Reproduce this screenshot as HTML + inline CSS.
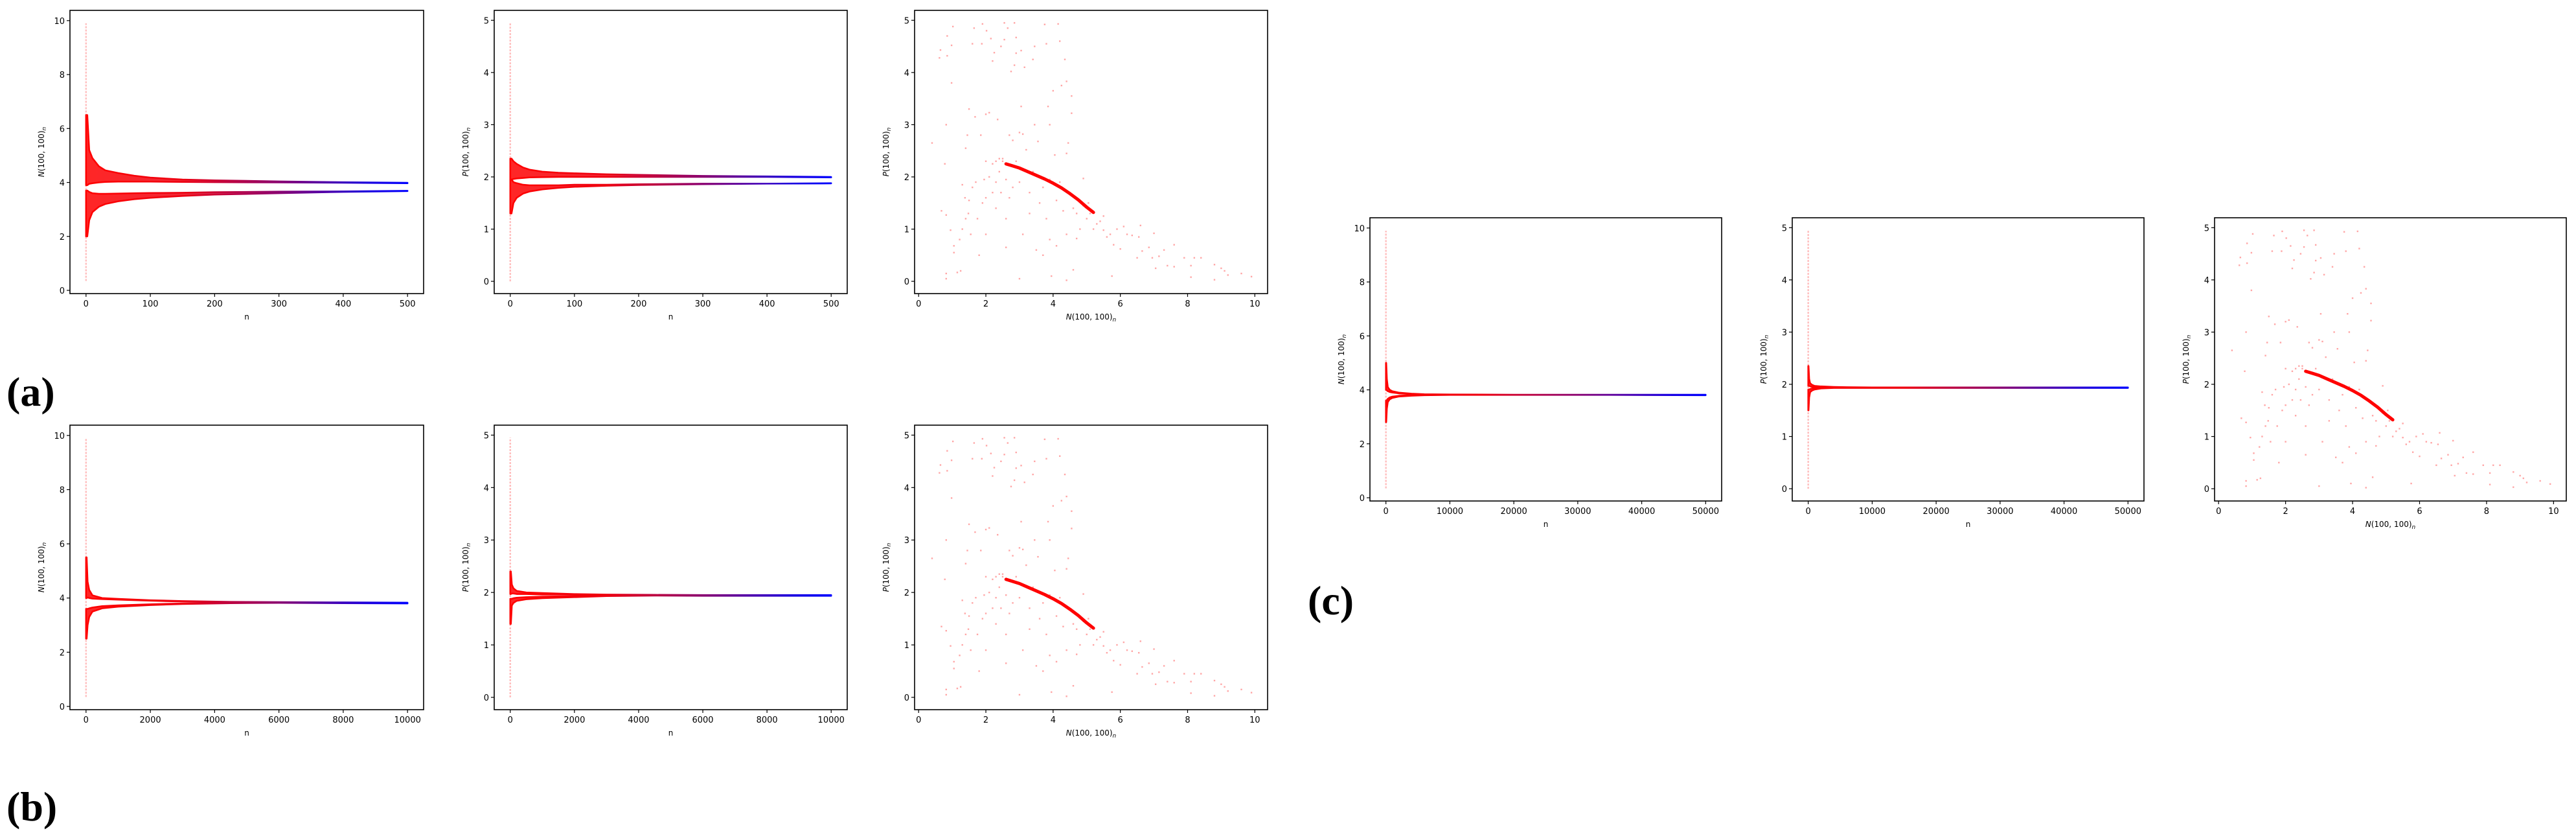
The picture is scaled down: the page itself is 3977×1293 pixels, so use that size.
<!DOCTYPE html>
<html><head><meta charset="utf-8">
<style>
html,body{margin:0;padding:0;background:#fff;}
svg{display:block;}
text{font-family:"DejaVu Sans","Liberation Sans",sans-serif;fill:#000;}
.lab{font-family:"Liberation Serif",serif;font-weight:bold;font-size:64px;}
</style></head>
<body>
<svg id="fig" width="3977" height="1293" viewBox="0 0 3977 1293" xmlns="http://www.w3.org/2000/svg">
<defs></defs>
<text class="lab" x="10" y="626">(a)</text>
<text class="lab" x="10" y="1266">(b)</text>
<text class="lab" x="2019" y="948">(c)</text>
</svg>
<script>
// ---- data ----
const nA = [2,5,10,20,30,50,75,100,150,200,300,400,500];
const a1UpOuter = [6.5,5.2,4.9,4.6,4.45,4.35,4.25,4.18,4.11,4.08,4.04,4.01,3.99];
const a1UpInner = [3.9,3.95,3.97,4.0,4.02,4.03,4.03,4.03,4.02,4.01,4.0,3.99,3.97];
const a1LoInner = [3.7,3.65,3.6,3.58,3.58,3.59,3.6,3.61,3.62,3.64,3.66,3.67,3.69];
const a1LoOuter = [2.0,2.6,2.9,3.1,3.2,3.3,3.38,3.43,3.5,3.55,3.6,3.65,3.68];
const a2UpOuter = [2.35,2.3,2.25,2.18,2.14,2.1,2.08,2.07,2.05,2.04,2.02,2.01,2.0];
const a2UpInner = [1.95,1.96,1.97,1.98,1.99,1.995,2.0,2.0,2.0,2.0,2.0,2.0,1.99];
const a2LoInner = [1.95,1.9,1.88,1.85,1.84,1.84,1.84,1.85,1.85,1.86,1.87,1.87,1.88];
const a2LoOuter = [1.3,1.5,1.6,1.68,1.72,1.76,1.79,1.81,1.83,1.845,1.86,1.87,1.875];
const nB = [20,50,100,200,500,1000,2000,3000,4500,6000,8000,10000];
const b1UpOuter = [5.5,4.6,4.3,4.1,4.0,3.97,3.92,3.89,3.86,3.85,3.84,3.83];
const b1UpInner = [4.0,4.02,4.0,3.98,3.96,3.94,3.9,3.87,3.85,3.84,3.83,3.82];
const b1LoInner = [3.6,3.6,3.62,3.65,3.7,3.73,3.77,3.8,3.82,3.83,3.82,3.81];
const b1LoOuter = [2.5,3.0,3.3,3.5,3.62,3.68,3.74,3.78,3.81,3.82,3.81,3.80];
const b2UpOuter = [2.4,2.15,2.08,2.03,2.0,1.99,1.97,1.96,1.955,1.95,1.95,1.95];
const b2UpInner = [1.97,1.98,1.98,1.97,1.97,1.96,1.96,1.955,1.95,1.945,1.945,1.945];
const b2LoInner = [1.88,1.88,1.89,1.9,1.91,1.92,1.93,1.94,1.945,1.94,1.94,1.94];
const b2LoOuter = [1.4,1.75,1.8,1.84,1.87,1.89,1.91,1.93,1.94,1.935,1.935,1.935];
const nC = [50,150,300,600,1000,2000,4000,6000,10000,20000,35000,50000];
const c1UpOuter = [5.0,4.4,4.1,4.0,3.95,3.9,3.86,3.84,3.83,3.82,3.82,3.82];
const c1UpInner = [4.0,3.98,3.95,3.92,3.9,3.87,3.84,3.83,3.82,3.82,3.82,3.81];
const c1LoInner = [3.6,3.62,3.67,3.72,3.75,3.78,3.8,3.81,3.81,3.81,3.81,3.80];
const c1LoOuter = [2.8,3.3,3.55,3.65,3.7,3.75,3.78,3.8,3.81,3.81,3.81,3.80];
const c2UpOuter = [2.35,2.1,2.02,1.99,1.97,1.96,1.95,1.945,1.94,1.94,1.94,1.94];
const c2UpInner = [1.97,1.97,1.96,1.95,1.95,1.945,1.94,1.94,1.94,1.94,1.94,1.935];
const c2LoInner = [1.9,1.9,1.91,1.92,1.93,1.935,1.935,1.935,1.935,1.935,1.935,1.93];
const c2LoOuter = [1.5,1.75,1.85,1.88,1.9,1.92,1.93,1.93,1.93,1.93,1.93,1.93];
const spikeN = [0.35, 9.9];
const spikeP = [0.0, 4.95];
const ticksN = [0,2,4,6,8,10];
const ticksP = [0,1,2,3,4,5];
const ticksScatX = [0,2,4,6,8,10];
const ticksA = [0,100,200,300,400,500];
const ticksB = [0,2000,4000,6000,8000,10000];
const ticksC = [0,10000,20000,30000,40000,50000];
const arcN = [2.6,2.8,3.0,3.25,3.5,3.75,4.0,4.25,4.5,4.75,5.0,5.2];
const arcP = [2.25,2.21,2.17,2.1,2.03,1.96,1.88,1.79,1.68,1.56,1.42,1.32];
const scatN = [0.4,0.65,0.62,0.85,0.98,1.02,0.85,0.98,0.82,0.78,0.68,0.82,0.82,0.82,0.95,1.05,1.05,1.15,1.22,1.25,1.3,1.38,1.4,1.45,1.48,1.5,1.55,1.6,1.65,1.68,1.75,1.8,1.85,1.88,1.9,1.95,2.0,2.02,2.1,2.15,2.2,2.25,2.35,2.4,2.45,2.55,2.55,2.6,2.65,2.7,2.75,2.8,2.85,2.85,2.9,2.9,3.0,3.0,3.05,3.05,3.1,3.15,3.2,3.3,3.4,3.45,3.45,3.55,3.7,3.75,3.8,3.85,3.9,3.95,4.0,4.05,4.1,4.15,4.2,4.25,4.35,4.4,4.4,4.4,4.45,4.55,4.55,4.6,4.7,4.9,5.05,5.3,5.5,5.6,5.75,5.8,5.9,6.0,6.1,6.2,6.35,6.5,6.55,6.6,6.65,6.85,6.95,7.0,7.05,7.15,7.3,7.4,7.6,7.6,7.9,8.1,8.2,8.4,8.1,8.8,8.8,9.0,9.1,9.2,9.6,9.9,2.0,2.1,2.2,2.3,2.4,2.45,2.5,2.6,2.7,2.8,2.2,2.0,1.9,1.7,2.3,3.0,3.3,3.6,3.8,4.1,4.3,3.7,4.6,4.7,5.0,5.2,5.4,5.5,5.7,5.1,4.9,4.2,3.9,3.4,2.9,2.5,2.3,1.5,1.6,1.3,1.4,2.0,2.6,3.1,3.5,3.9,4.4,4.8];
const scatP = [2.65,4.43,4.28,4.7,4.52,4.88,4.32,3.8,3.0,2.25,1.35,1.27,0.15,0.05,0.98,0.68,0.55,0.17,0.8,0.2,1.85,1.6,2.55,2.8,1.3,3.3,0.9,4.55,4.85,3.15,1.2,0.5,2.8,4.55,4.93,1.95,3.2,4.8,3.23,4.65,4.22,4.38,3.1,2.35,4.5,4.95,4.63,0.65,4.85,2.8,4.02,2.7,4.14,4.95,4.67,4.37,2.85,0.05,4.42,3.35,2.82,4.1,2.52,1.3,4.25,4.5,3.0,2.68,0.5,4.92,4.55,3.35,3.0,0.1,3.65,2.42,0.68,4.93,4.6,3.75,4.25,3.83,2.45,0.02,2.65,3.55,3.22,0.22,0.82,1.97,1.5,1.1,1.25,0.85,0.1,0.7,1.0,0.62,1.05,0.9,0.88,0.45,0.85,1.07,0.58,0.65,0.45,0.92,0.25,0.48,0.6,0.3,0.28,0.7,0.45,0.3,0.45,0.45,0.08,0.32,0.03,0.25,0.2,0.12,0.15,0.09,2.3,2.0,2.25,1.9,2.1,1.7,2.3,1.95,1.6,1.8,1.7,1.6,1.5,1.9,1.4,1.9,1.7,1.5,1.2,1.55,1.35,1.8,1.4,1.3,1.2,1.0,1.15,0.98,0.9,1.3,1.45,1.9,1.95,2.1,2.3,2.35,2.3,1.55,1.8,1.0,1.2,0.9,1.2,0.9,0.6,0.8,0.9,1.0];

// ---- drawing ----
const NS = "http://www.w3.org/2000/svg";
const svg = document.getElementById('fig');
const defs = svg.querySelector('defs');
function mk(tag, attrs, parent){
  const e = document.createElementNS(NS, tag);
  for (const k in attrs) e.setAttribute(k, attrs[k]);
  (parent||svg).appendChild(e);
  return e;
}
function linScale(d0,d1,r0,r1){ return v => r0 + (v-d0)/(d1-d0)*(r1-r0); }

function frame(g, L, T, R, B, xs, ys, xt, yt, xlab, ylabHtml){
  const box = mk('rect',{x:L,y:T,width:R-L,height:B-T,fill:'none',stroke:'#000','stroke-width':1.6},g);
  
  
  xt.forEach(v=>{
    const x = xs(v);
    mk('line',{x1:x,y1:B,x2:x,y2:B+5,stroke:'#000','stroke-width':1.2},g);
    const t = mk('text',{x:x,y:B+20,'text-anchor':'middle','font-size':13},g);
    t.textContent = v;
    
    
  });
  yt.forEach(v=>{
    const y = ys(v);
    mk('line',{x1:L-5,y1:y,x2:L,y2:y,stroke:'#000','stroke-width':1.2},g);
    const t = mk('text',{x:L-8,y:y+5,'text-anchor':'end','font-size':13},g);
    t.textContent = v;
    
    
  });
  const xl = mk('text',{x:(L+R)/2,y:B+40,'text-anchor':'middle','font-size':12},g);
  xl.innerHTML = xlab;
  
  
  const cx = L-40, cy=(T+B)/2;
  const yl = mk('text',{x:cx,y:cy,'text-anchor':'middle','font-size':12,transform:`rotate(-90 ${cx} ${cy})`},g);
  yl.innerHTML = ylabHtml;
  
  
}
const labN = '<tspan font-style="italic">N</tspan>(100, 100)<tspan font-size="9" dy="3" font-style="italic">n</tspan>';
const labP = '<tspan font-style="italic">P</tspan>(100, 100)<tspan font-size="9" dy="3" font-style="italic">n</tspan>';

let gid = 0;
function convPanel(name, L,T,R,B, nArr, nMax, nTicks, yMax, yTicks, upO, upI, loI, loO, spike, ylab){
  const g = mk('g',{});
  
  
  const xs = linScale(-0.05*nMax, 1.05*nMax, L, R);
  const ys = yMax===10 ? linScale(-0.12,10.38,B,T) : linScale(-0.235,5.19,B,T);
  const id = 'grad'+(gid++);
  const lg = mk('linearGradient',{id:id,gradientUnits:'userSpaceOnUse',x1:xs(0),y1:0,x2:xs(nMax),y2:0},defs);
  mk('stop',{offset:'0','stop-color':'#ff0000'},lg);
  mk('stop',{offset:'0.3','stop-color':'#ee0010'},lg);
  mk('stop',{offset:'0.6','stop-color':'#8a0070'},lg);
  mk('stop',{offset:'0.88','stop-color':'#1a00e0'},lg);
  mk('stop',{offset:'1','stop-color':'#0000ff'},lg);
  const sp = mk('line',{x1:xs(0),y1:ys(spike[0]),x2:xs(0),y2:ys(spike[1]),stroke:'#ff7070','stroke-width':2.5,'stroke-opacity':0.45,'stroke-dasharray':'3 2'},g);
  
  
  function band(a, b, nm){
    let d = 'M'+xs(0)+','+ys(a[0]);
    nArr.forEach((n,i)=>{ d += ' L'+xs(n)+','+ys(a[i]); });
    for(let i=nArr.length-1;i>=0;i--){ d += ' L'+xs(nArr[i])+','+ys(b[i]); }
    d += ' L'+xs(0)+','+ys(b[0])+' Z';
    const p = mk('path',{d:d,fill:`url(#${id})`,'fill-opacity':0.85,stroke:`url(#${id})`,'stroke-width':2.5,'stroke-linejoin':'round'},g);
    
    
  }
  band(upO, upI, 'upper-branch-band');
  band(loI, loO, 'lower-branch-band');
  frame(g, L,T,R,B, xs, ys, nTicks, yTicks, 'n', ylab);
}
function scatPanel(name, L,T,R,B){
  const g = mk('g',{});
  
  
  const xs = linScale(-0.12,10.38,L,R);
  const ys = linScale(-0.235,5.19,B,T);
  scatN.forEach((v,i)=>{
    const c = mk('rect',{x:xs(v)-1.2,y:ys(scatP[i])-1.2,width:2.4,height:2.4,fill:'#ff2020','fill-opacity':0.4},g);
    
    
  });
  const pts = arcN.map((v,i)=>xs(v)+','+ys(arcP[i])).join(' ');
  const arc = mk('polyline',{points:pts,fill:'none',stroke:'#ff0000','stroke-width':5,'stroke-linecap':'round','stroke-linejoin':'round'},g);
  
  
  frame(g, L,T,R,B, xs, ys, ticksScatX, ticksP, labN, labP);
}

convPanel('panel-a-N', 108,16,654,453, nA, 500, ticksA, 10, ticksN, a1UpOuter,a1UpInner,a1LoInner,a1LoOuter, spikeN, labN);
convPanel('panel-a-P', 763,16,1308,453, nA, 500, ticksA, 5, ticksP, a2UpOuter,a2UpInner,a2LoInner,a2LoOuter, spikeP, labP);
scatPanel('panel-a-phase', 1412,16,1957,453);
convPanel('panel-b-N', 108,656,654,1095, nB, 10000, ticksB, 10, ticksN, b1UpOuter,b1UpInner,b1LoInner,b1LoOuter, spikeN, labN);
convPanel('panel-b-P', 763,656,1308,1095, nB, 10000, ticksB, 5, ticksP, b2UpOuter,b2UpInner,b2LoInner,b2LoOuter, spikeP, labP);
scatPanel('panel-b-phase', 1412,656,1957,1095);
convPanel('panel-c-N', 2115,336,2658,773, nC, 50000, ticksC, 10, ticksN, c1UpOuter,c1UpInner,c1LoInner,c1LoOuter, spikeN, labN);
convPanel('panel-c-P', 2767,336,3310,773, nC, 50000, ticksC, 5, ticksP, c2UpOuter,c2UpInner,c2LoInner,c2LoOuter, spikeP, labP);
scatPanel('panel-c-phase', 3419,336,3962,773);
</script>
</body></html>
